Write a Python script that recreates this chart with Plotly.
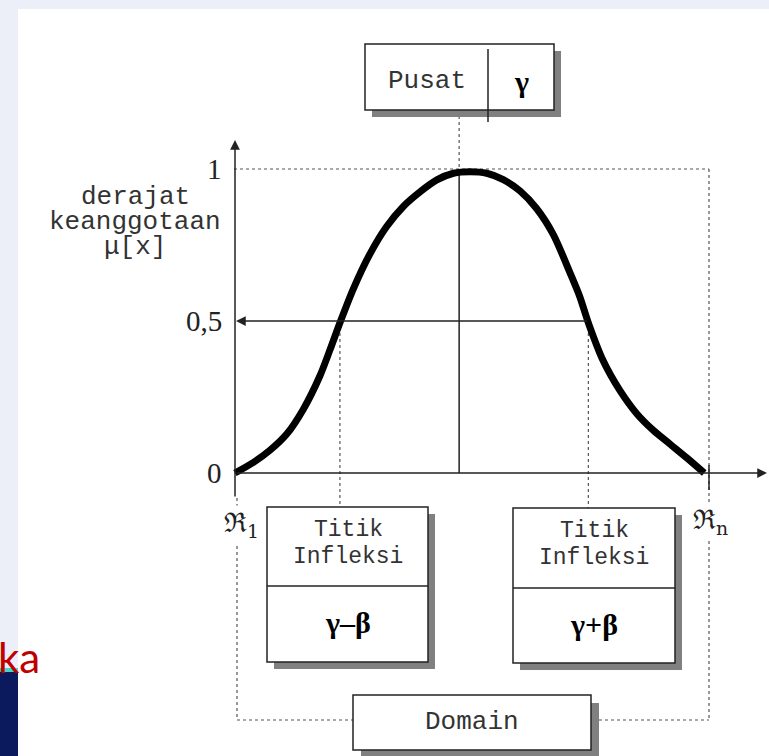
import plotly.graph_objects as go

# ---------------- data ----------------
# domain runs from R1 (0) to Rn (100); mu is the degree of membership
curve_x = [0.2, 4.1, 7.6, 11.1, 14.6, 18.1, 20.2, 22.3, 25.1, 28.6, 32.1, 35.6, 39.2, 42.7, 46.2, 49.7,
           53.2, 56.7, 60.2, 63.7, 67.2, 70.7, 72.8, 74.6, 77.7, 81.3, 84.8, 88.3, 91.8, 95.3, 99.0]
curve_mu = [0.0, 0.035, 0.075, 0.128, 0.21, 0.32, 0.405, 0.494, 0.605, 0.72, 0.81, 0.876, 0.925, 0.964, 0.986, 0.991,
            0.986, 0.965, 0.928, 0.87, 0.785, 0.66, 0.58, 0.494, 0.37, 0.27, 0.195, 0.14, 0.095, 0.05, 0.0]
domain_min, domain_max = 0, 100
gamma = 47.4            # centre (Pusat)
infl_left = 22.3        # gamma - beta
infl_right = 74.6       # gamma + beta
tick_vals = [0, 0.5, 1]
tick_text = ["0", "0,5", "1"]

W, H = 769, 756
# pixel -> data helpers for the decorative layout
def X(px):
    return (px - 234) / 4.75
def Y(py):
    return (473 - py) / 304

fig = go.Figure()
fig.add_trace(go.Scatter(x=curve_x, y=curve_mu, mode="lines",
                         line=dict(color="black", width=7, shape="spline", smoothing=0.8),
                         hoverinfo="skip", showlegend=False))

shapes = []
def line(x0, y0, x1, y1, dash="solid", color="#222", width=1.5):
    shapes.append(dict(type="line", xref="x", yref="y", x0=x0, y0=y0, x1=x1, y1=y1,
                       line=dict(color=color, width=width, dash=dash), layer="below"))
def pline(px0, py0, px1, py1, **kw):
    line(X(px0), Y(py0), X(px1), Y(py1), **kw)
def box(px0, py0, px1, py1, off=7):
    shapes.append(dict(type="rect", xref="x", yref="y", x0=X(px0 + off), y0=Y(py0 + off),
                       x1=X(px1 + off), y1=Y(py1 + off), fillcolor="#808080",
                       line=dict(width=0), layer="below"))
    shapes.append(dict(type="rect", xref="x", yref="y", x0=X(px0), y0=Y(py0),
                       x1=X(px1), y1=Y(py1), fillcolor="white",
                       line=dict(color="#222", width=1.5), layer="below"))

# slide background strips
shapes.append(dict(type="rect", xref="paper", yref="paper", x0=0, y0=0, x1=18 / W, y1=1,
                   fillcolor="#eceff8", line=dict(width=0), layer="below"))
shapes.append(dict(type="rect", xref="paper", yref="paper", x0=0, y0=1 - 9 / H, x1=1, y1=1,
                   fillcolor="#eceff8", line=dict(width=0), layer="below"))
shapes.append(dict(type="rect", xref="paper", yref="paper", x0=0, y0=0, x1=18 / W, y1=1 - 672 / H,
                   fillcolor="#0b1a5c", line=dict(width=0), layer="below"))
shapes.append(dict(type="rect", xref="paper", yref="paper", x0=0, y0=1 - 672 / H, x1=18 / W, y1=1 - 668 / H,
                   fillcolor="#45d8c4", line=dict(width=0), layer="below"))

dot = dict(dash="dot", color="#555", width=1.2)
# level 1 dotted frame
line(domain_min, 1, X(709), 1, **dot)
line(X(709), 1, X(709), Y(720), **dot)
line(X(237), Y(498), X(237), Y(720), **dot)
line(X(237), Y(720), X(353), Y(720), **dot)
line(X(599), Y(720), X(709), Y(720), **dot)
# inflection dotted verticals
line(infl_left, 0.5, infl_left, Y(507), **dot)
line(infl_right, 0.5, infl_right, Y(508), **dot)
# centre line
line(gamma, Y(110), gamma, 1, **dot)
line(gamma, 1, gamma, 0)
# tick at Rn
pline(709, 465, 709, 490)

# boxes
box(365, 44, 554, 110)
pline(488, 49, 488, 122, color="#222", width=1.5)
box(267, 507, 428, 662)
pline(267, 586, 428, 586)
box(513, 508, 675, 663)
pline(513, 588, 675, 588)
box(353, 695, 591, 750, off=8)

ann = []
def arrow(hx, hy, tx, ty):
    ann.append(dict(x=hx, y=hy, ax=tx, ay=ty, xref="x", yref="y", axref="x", ayref="y",
                    text="", showarrow=True, arrowhead=2, arrowsize=1.3, arrowwidth=1.5,
                    arrowcolor="#222", standoff=0))
arrow(X(235), Y(140), X(235), Y(498))
arrow(X(767), 0, X(235), 0)
arrow(X(236), 0.5, infl_right, 0.5)

MONO = "Liberation Mono"
SERIF = "Liberation Serif"
def text(px, py, s, size, family, color="#333", xanchor="center", bold=False, bg=None):
    d = dict(x=X(px), y=Y(py), xref="x", yref="y", text=("<b>%s</b>" % s) if bold else s,
             showarrow=False, xanchor=xanchor, yanchor="middle",
             font=dict(size=size, family=family, color=color))
    if bg:
        d["bgcolor"] = bg
    ann.append(d)

text(427, 81, "Pusat", 26, MONO)
text(521, 81, "γ", 30, SERIF, color="black", bold=True)
for v, t in zip(tick_vals, tick_text):
    ann.append(dict(x=X(224), y=v, xref="x", yref="y", text=t, showarrow=False,
                    xanchor="right", yanchor="middle",
                    font=dict(size=29, family=SERIF, color="#222")))
text(135, 197, "derajat", 26, MONO)
text(135, 222, "keanggotaan", 26, MONO)
text(135, 247, "μ[x]", 26, MONO)
text(348, 530, "Titik", 23, MONO)
text(348, 557, "Infleksi", 23, MONO)
text(348, 622, "γ–β", 30, SERIF, color="black", bold=True)
text(594, 531, "Titik", 23, MONO)
text(594, 558, "Infleksi", 23, MONO)
text(594, 624, "γ+β", 30, SERIF, color="black", bold=True)
text(472, 722, "Domain", 26, MONO)
text(241, 524, "ℜ<sub>1</sub>", 27, "DejaVu Serif", color="#222", bg="white")
text(710, 521, "ℜ<sub>n</sub>", 27, "DejaVu Serif", color="#222", bg="white")
ann.append(dict(x=42 / W, y=1 - 657 / H, xref="paper", yref="paper", text="ka", showarrow=False,
                xanchor="right", yanchor="middle",
                font=dict(size=42, family="Lato", color="#c00000")))

fig.update_layout(
    width=W, height=H, autosize=False,
    margin=dict(l=0, r=0, t=0, b=0),
    paper_bgcolor="white", plot_bgcolor="white",
    xaxis=dict(range=[X(0), X(W)], visible=False, fixedrange=True),
    yaxis=dict(range=[Y(H), Y(0)], visible=False, fixedrange=True),
    shapes=shapes, annotations=ann, showlegend=False,
)
fig.write_html("out.html", config={"displayModeBar": False},
               post_script="document.body.style.margin='0';")
